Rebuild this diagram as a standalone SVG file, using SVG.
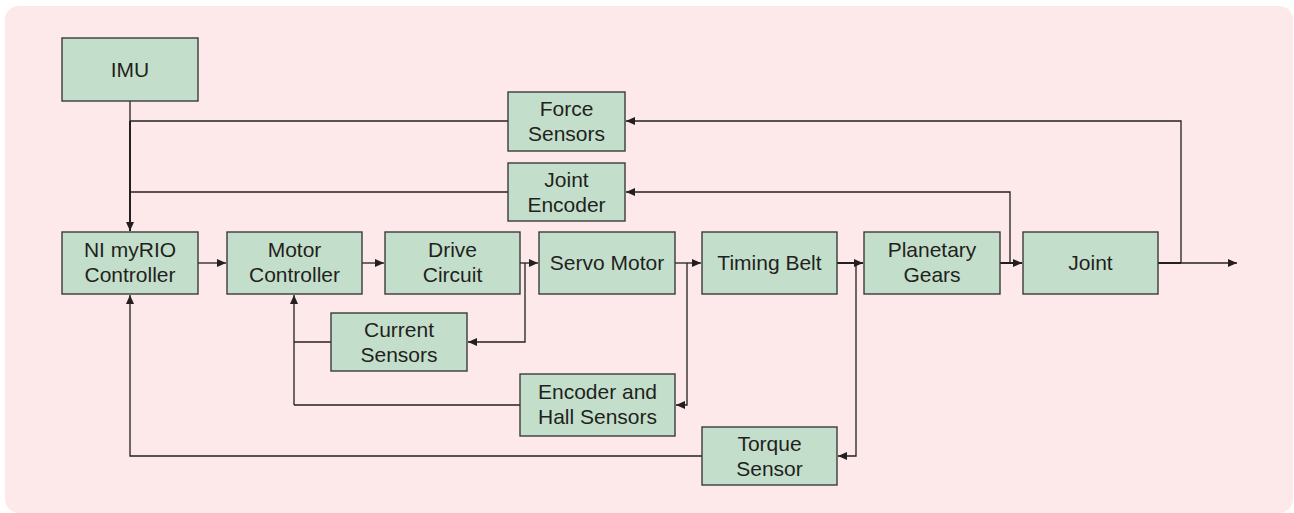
<svg xmlns="http://www.w3.org/2000/svg" width="1294" height="513" viewBox="0 0 1294 513">
  <style>
    .box { fill: #c3dfcc; stroke: #3a3a3a; stroke-width: 1.4; }
    .lbl { font-family: "Liberation Sans", Arial, sans-serif; font-size: 21px; fill: #231f20; text-anchor: middle; }
    .ln { fill: none; stroke: #231f20; stroke-width: 1.3; }
    .thick { stroke-width: 2; }
  </style>
  <defs>
    <marker id="arr" markerUnits="userSpaceOnUse" markerWidth="10" markerHeight="9" refX="9" refY="4" orient="auto">
      <path d="M0,0 L9,4 L0,8 z" fill="#231f20"/>
    </marker>
  </defs>
  <rect x="5" y="6" width="1288" height="507" rx="14" ry="14" fill="#fde9ea"/>

  <g id="connectors">
    <path class="ln" d="M130,101 V121"/>
    <path class="ln thick" d="M130,121 V231" marker-end="url(#arr)"/>
    <path class="ln" d="M508,121 H130"/>
    <path class="ln" d="M508,192 H130"/>
    <path class="ln" d="M198,263 H226" marker-end="url(#arr)"/>
    <path class="ln" d="M362,263 H384" marker-end="url(#arr)"/>
    <path class="ln" d="M520,263 H538" marker-end="url(#arr)"/>
    <path class="ln" d="M525,263 V342 H468" marker-end="url(#arr)"/>
    <path class="ln" d="M331,342 H294"/>
    <path class="ln" d="M294,405 V295" marker-end="url(#arr)"/>
    <path class="ln" d="M675,263 H701" marker-end="url(#arr)"/>
    <path class="ln" d="M687,263 V405 H676" marker-end="url(#arr)"/>
    <path class="ln" d="M520,405 H294"/>
    <path class="ln thick" d="M837,263 H863" marker-end="url(#arr)"/>
    <path class="ln" d="M856,263 V456 H838" marker-end="url(#arr)"/>
    <path class="ln" d="M702,456 H130 V295" marker-end="url(#arr)"/>
    <path class="ln thick" d="M1000,263 H1022" marker-end="url(#arr)"/>
    <path class="ln" d="M1010,263 V192 H626" marker-end="url(#arr)"/>
    <path class="ln thick" d="M1158,263 H1181"/>
    <path class="ln" d="M1181,263 H1237" marker-end="url(#arr)"/>
    <path class="ln" d="M1181,263 V121 H626" marker-end="url(#arr)"/>
  </g>

  <g id="imu"><rect class="box" x="62" y="38" width="136" height="63"/><text class="lbl" x="130" y="77">IMU</text></g>
  <g id="force-sensors"><rect class="box" x="508" y="92" width="117" height="59"/><text class="lbl" x="566.5" y="116">Force</text><text class="lbl" x="566.5" y="141">Sensors</text></g>
  <g id="joint-encoder"><rect class="box" x="508" y="163" width="117" height="58"/><text class="lbl" x="566.5" y="187">Joint</text><text class="lbl" x="566.5" y="212">Encoder</text></g>
  <g id="ni-myrio"><rect class="box" x="62" y="232" width="136" height="62"/><text class="lbl" x="130" y="257">NI myRIO</text><text class="lbl" x="130" y="282">Controller</text></g>
  <g id="motor-controller"><rect class="box" x="227" y="232" width="135" height="62"/><text class="lbl" x="294.5" y="257">Motor</text><text class="lbl" x="294.5" y="282">Controller</text></g>
  <g id="drive-circuit"><rect class="box" x="385" y="232" width="135" height="62"/><text class="lbl" x="452.5" y="257">Drive</text><text class="lbl" x="452.5" y="282">Circuit</text></g>
  <g id="servo-motor"><rect class="box" x="539" y="232" width="136" height="62"/><text class="lbl" x="607" y="270">Servo Motor</text></g>
  <g id="timing-belt"><rect class="box" x="702" y="232" width="135" height="62"/><text class="lbl" x="769.5" y="270">Timing Belt</text></g>
  <g id="planetary-gears"><rect class="box" x="864" y="232" width="136" height="62"/><text class="lbl" x="932" y="257">Planetary</text><text class="lbl" x="932" y="282">Gears</text></g>
  <g id="joint"><rect class="box" x="1023" y="232" width="135" height="62"/><text class="lbl" x="1090.5" y="270">Joint</text></g>
  <g id="current-sensors"><rect class="box" x="331" y="313" width="136" height="58"/><text class="lbl" x="399" y="337">Current</text><text class="lbl" x="399" y="362">Sensors</text></g>
  <g id="encoder-hall"><rect class="box" x="520" y="374" width="155" height="62"/><text class="lbl" x="597.5" y="399">Encoder and</text><text class="lbl" x="597.5" y="424">Hall Sensors</text></g>
  <g id="torque-sensor"><rect class="box" x="702" y="427" width="135" height="58"/><text class="lbl" x="769.5" y="451">Torque</text><text class="lbl" x="769.5" y="476">Sensor</text></g>
</svg>
